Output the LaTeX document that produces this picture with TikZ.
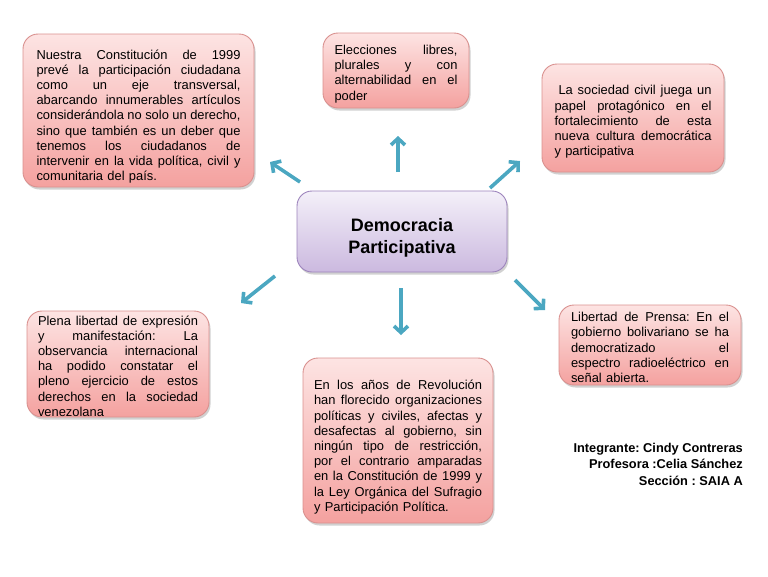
\documentclass[tikz,border=0pt]{standalone}
\usepackage{fontspec}
\setmainfont{Liberation Sans}
\usetikzlibrary{arrows.meta,shadows}
\frenchspacing
\definecolor{pinktop}{HTML}{FDE4E3}
\definecolor{pinkbot}{HTML}{F4A19F}
\definecolor{pinkline}{HTML}{D9908E}
\definecolor{lavtop}{HTML}{F4F0F9}
\definecolor{lavbot}{HTML}{CBB9DF}
\definecolor{lavline}{HTML}{9C83BC}
\definecolor{arrowc}{HTML}{4BA7C1}
\newlength\tw
\newcommand\jl[1]{\leavevmode\hbox to\tw{\spaceskip=0.278em plus 3em minus 0.05em\relax #1}}
\newcommand\tp[1]{\rule{0pt}{#1}}
\begin{document}
\begin{tikzpicture}[x=1pt,y=-1pt,
  pbox/.style={rectangle, rounded corners=15pt, draw=pinkline, line width=0.9pt,
    top color=pinktop, bottom color=pinkbot,
    drop shadow={shadow xshift=1.5pt, shadow yshift=-2.5pt, opacity=0.3, fill=black!60},
    align=left, font=\fontsize{12.9}{15.2}\selectfont, inner sep=0pt, text=black,
    text width=#1, execute at begin node={\setlength\tw{#1}}},
  cbox/.style={rectangle, rounded corners=15pt, draw=lavline, line width=0.9pt,
    top color=lavtop, bottom color=lavbot,
    drop shadow={shadow xshift=1.5pt, shadow yshift=-2.5pt, opacity=0.3, fill=black!60},
    align=center, font=\fontsize{18}{22}\selectfont\bfseries, inner sep=0pt},
  conn/.style={draw=arrowc, line width=3.6pt, -{Straight Barb[length=6.5pt,width=14pt]}},
  foot/.style={align=right, font=\fontsize{12.8}{16.3}\selectfont\bfseries, inner sep=0pt}
]
\useasboundingbox (0,0) rectangle (768,576);

\node[pbox=204pt, minimum width=231pt, minimum height=153pt] (b1) at (138.5,110.5)
{\jl{\tp{21.6pt}Nuestra Constitución de 1999}\\
 \jl{prevé la participación ciudadana}\\
 \jl{como un eje transversal,}\\
 \jl{abarcando innumerables artículos}\\
 \jl{considerándola no solo un derecho,}\\
 \jl{sino que también es un deber que}\\
 \jl{tenemos los ciudadanos de}\\
 \jl{intervenir en la vida política, civil y}\\
 comunitaria del país.};

\node[pbox=123pt, minimum width=146pt, minimum height=75pt] (b2) at (396,70.5)
{\jl{\tp{16.4pt}Elecciones libres,}\\
 \jl{plurales y con}\\
 \jl{alternabilidad en el}\\
 poder};

\node[pbox=157pt, minimum width=182pt, minimum height=108pt] (b3) at (633,118)
{\jl{\tp{17.4pt}\hspace*{4pt}La sociedad civil juega un}\\
 \jl{papel protagónico en el}\\
 \jl{fortalecimiento de esta}\\
 \jl{nueva cultura democrática}\\
 y participativa};

\node[cbox, minimum width=210pt, minimum height=81pt] (c) at (402,231.5)
{\tp{26pt}Democracia\\Participativa};

\node[pbox=160pt, minimum width=182pt, minimum height=106pt] (b5) at (118,364)
{\jl{\tp{13.6pt}Plena libertad de expresión}\\
 \jl{y manifestación: La}\\
 \jl{observancia internacional}\\
 \jl{ha podido constatar el}\\
 \jl{pleno ejercicio de estos}\\
 \jl{derechos en la sociedad}\\
 venezolana};

\node[pbox=168pt, minimum width=190pt, minimum height=165pt] (b6) at (398,440.5)
{\jl{\tp{22.6pt}En los años de Revolución}\\
 \jl{han florecido organizaciones}\\
 \jl{políticas y civiles, afectas y}\\
 \jl{desafectas al gobierno, sin}\\
 \jl{ningún tipo de restricción,}\\
 \jl{por el contrario amparadas}\\
 \jl{en la Constitución de 1999 y}\\
 \jl{la Ley Orgánica del Sufragio}\\
 y Participación Política.};

\node[pbox=158pt, minimum width=182pt, minimum height=80pt] (b7) at (650,345)
{\jl{\tp{14.4pt}Libertad de Prensa: En el}\\
 \jl{gobierno bolivariano se ha}\\
 \jl{democratizado el}\\
 \jl{espectro radioeléctrico en}\\
 señal abierta.};

\node[foot, anchor=north east] (ft) at (743,443)
{Integrante: Cindy Contreras\\
 Profesora :Celia Sánchez\\
 Sección : SAIA A};

\coordinate (a1s) at (300,182); \coordinate (a1e) at (270,162);
\coordinate (a2s) at (398,172); \coordinate (a2e) at (398,136);
\coordinate (a3s) at (490,188); \coordinate (a3e) at (520,161);
\coordinate (a4s) at (275,276); \coordinate (a4e) at (241,303);
\coordinate (a5s) at (401,288); \coordinate (a5e) at (401,335);
\coordinate (a6s) at (515,280); \coordinate (a6e) at (545,310);
\draw[conn] (a1s) -- (a1e);
\draw[conn] (a2s) -- (a2e);
\draw[conn] (a3s) -- (a3e);
\draw[conn] (a4s) -- (a4e);
\draw[conn] (a5s) -- (a5e);
\draw[conn] (a6s) -- (a6e);
\end{tikzpicture}
\end{document}
